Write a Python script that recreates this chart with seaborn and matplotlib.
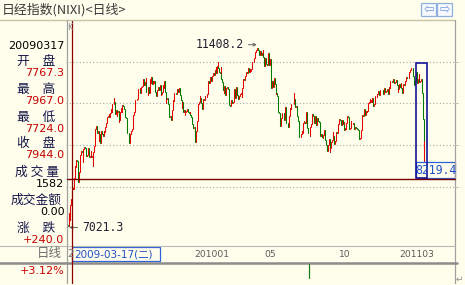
import numpy as np
import pandas as pd
import matplotlib
matplotlib.use("Agg")
import matplotlib.pyplot as plt
from matplotlib.patches import Rectangle
import seaborn as sns

# ---------------- data (daily closes) ----------------
open_first = 7433.5  # open of the first visible candle
c2009_03 = [7173.1, 7086.0, 7055.0, 7376.1, 7198.3, 7569.3, 7704.0, 7944.0, 7972.2, 7946.0,
            8215.5, 8488.3, 8480.0, 8636.3, 8627.0, 8236.1, 8109.5]
c2009_04 = [8351.9, 8719.8, 8749.8, 8857.9, 8832.9, 8595.0, 8916.1, 8964.1, 8924.4, 8842.7,
            8743.0, 8755.3, 8907.6, 8924.8, 8711.3, 8727.3, 8847.0, 8708.0, 8726.3, 8493.8, 8828.3]
c2009_05 = [8977.4, 9385.7, 9432.8, 9452.0, 9298.6, 9340.5, 9093.7, 9265.0, 9038.7, 9290.3,
            9344.6, 9264.2, 9225.8, 9347.0, 9310.8, 9438.8, 9451.4, 9522.5]
c2009_06 = [9677.8, 9704.3, 9741.7, 9669.0, 9768.0, 9865.6, 9786.3, 9991.5, 9981.3, 10135.8,
            10039.7, 9752.9, 9840.9, 9703.7, 9786.3, 9826.3, 9549.6, 9590.3, 9796.1, 9877.4, 9783.5, 9958.4]
c2009_07 = [9939.9, 9876.2, 9816.1, 9680.9, 9647.8, 9420.8, 9291.1, 9287.3, 9050.3, 9261.8,
            9269.3, 9344.2, 9395.3, 9652.0, 9723.2, 9792.9, 9944.6, 10088.7, 10087.3, 10113.2, 10165.2, 10356.8]
c2009_08 = [10352.5, 10375.0, 10252.5, 10388.1, 10412.1, 10524.3, 10585.4, 10435.0, 10517.9, 10597.3,
            10268.6, 10285.0, 10204.0, 10383.4, 10238.2, 10581.1, 10497.4, 10639.7, 10474.0, 10534.1, 10492.5]
c2009_09 = [10530.1, 10280.5, 10214.6, 10187.1, 10320.9, 10393.2, 10312.1, 10312.1, 10444.3, 10202.1,
            10217.6, 10270.8, 10443.8, 10370.5, 10544.2, 10266.0, 10009.5, 10100.2, 10133.2]
c2009_10 = [9978.6, 9731.9, 9674.5, 9691.8, 9599.8, 9786.0, 9832.5, 10076.6, 10060.2, 10238.7,
            10257.6, 10236.5, 10336.8, 10333.4, 10267.2, 10283.0, 10362.6, 10212.5, 10075.1, 9891.1, 10034.7]
c2009_11 = [9803.0, 9844.3, 9717.4, 9789.4, 9809.0, 9870.7, 9871.7, 9804.5, 9770.3, 9791.2,
            9729.9, 9676.8, 9549.5, 9497.7, 9401.6, 9441.6, 9383.2, 9081.5, 9345.6]
c2009_12 = [9572.2, 9608.9, 9977.7, 10022.6, 10167.6, 10140.5, 10004.7, 9862.8, 10107.9, 10105.7,
            10083.5, 10177.4, 10163.8, 10142.1, 10215.6, 10378.0, 10536.9, 10494.7, 10634.2, 10638.1, 10546.4]
c2010_01 = [10654.8, 10681.7, 10731.5, 10681.8, 10798.3, 10879.1, 10735.0, 10907.7, 10982.1, 10855.1,
            10764.9, 10737.5, 10868.4, 10590.6, 10512.7, 10325.3, 10252.1, 10414.3, 10198.0]
c2010_02 = [10205.0, 10371.1, 10404.3, 10356.0, 10057.1, 9951.8, 9932.9, 9964.0, 10092.2, 10013.3,
            10034.3, 10306.8, 10335.7, 10123.6, 10400.5, 10352.1, 10198.8, 10102.0, 10126.0]
c2010_03 = [10172.1, 10221.8, 10253.1, 10145.7, 10369.0, 10585.9, 10567.7, 10567.3, 10665.0, 10751.3,
            10751.7, 10721.7, 10847.0, 10744.0, 10824.7, 10774.2, 10815.0, 10828.9, 10996.4, 10986.5,
            11097.1, 11089.9]
c2010_04 = [11244.4, 11286.1, 11339.3, 11282.3, 11292.8, 11168.2, 11204.3, 11251.9, 11161.2, 11204.9,
            11273.8, 11102.2, 10908.8, 10900.7, 11090.1, 10949.1, 10914.5, 11165.8, 11212.7, 10924.8, 11057.4]
c2010_05 = [10695.7, 10364.6, 10530.7, 10411.1, 10394.0, 10620.6, 10462.5, 10235.8, 10242.6, 10186.8,
            10030.3, 9784.5, 9758.4, 9459.9, 9522.7, 9639.7, 9763.0, 9768.7]
c2010_06 = [9711.5, 9603.2, 9914.2, 9901.2, 9520.8, 9537.9, 9439.1, 9542.7, 9705.3, 9879.9,
            9867.9, 9990.2, 9974.9, 9995.0, 10238.0, 10112.9, 9923.7, 9928.3, 9737.5, 9693.9, 9570.7, 9382.6]
c2010_07 = [9191.6, 9203.7, 9266.8, 9338.0, 9279.7, 9535.7, 9585.3, 9548.1, 9537.2, 9795.2,
            9685.5, 9408.4, 9300.5, 9278.8, 9220.9, 9431.0, 9503.7, 9496.9, 9753.3, 9696.0, 9537.3]
c2010_08 = [9570.3, 9694.0, 9489.3, 9653.9, 9642.1, 9572.5, 9551.1, 9292.9, 9212.6, 9253.5,
            9196.7, 9161.7, 9240.5, 9362.7, 9179.4, 9116.7, 8995.1, 8845.4, 8906.5, 8991.1, 9149.3, 8824.1]
c2010_09 = [8927.0, 9062.8, 9114.1, 9301.3, 9226.0, 9024.6, 9098.4, 9239.2, 9321.8, 9299.3,
            9516.6, 9509.5, 9626.1, 9602.1, 9566.8, 9471.7, 9603.1, 9495.8, 9559.4, 9369.4]
c2010_10 = [9404.2, 9381.1, 9518.8, 9691.4, 9684.8, 9588.9, 9388.6, 9403.5, 9583.5, 9500.3,
            9498.5, 9539.5, 9381.6, 9376.5, 9426.7, 9401.2, 9377.4, 9387.0, 9366.0, 9202.5]
c2010_11 = [9154.7, 9160.0, 9358.8, 9626.0, 9732.9, 9694.5, 9830.5, 9861.5, 9724.8, 9827.5,
            9797.1, 9811.7, 10013.6, 10022.4, 10115.2, 10030.1, 10079.8, 10039.6, 10126.0, 9937.0]
c2010_12 = [9988.1, 10168.5, 10178.3, 10167.2, 10141.1, 10232.3, 10285.9, 10212.0, 10293.9, 10316.8,
            10309.8, 10311.3, 10303.8, 10216.4, 10370.5, 10346.5, 10279.2, 10292.6, 10356.0, 10344.5, 10228.9]
c2011_01 = [10398.1, 10380.8, 10529.8, 10541.0, 10510.7, 10512.8, 10589.8, 10499.0, 10502.9, 10519.0,
            10557.1, 10437.3, 10274.5, 10345.1, 10464.4, 10401.9, 10478.7, 10360.3, 10237.9]
c2011_02 = [10274.5, 10457.4, 10431.4, 10543.5, 10592.0, 10636.0, 10617.8, 10605.7, 10725.5, 10746.7,
            10808.3, 10836.6, 10842.8, 10857.5, 10664.7, 10579.1, 10452.7, 10526.8, 10624.1]
c2011_03 = [10754.0, 10492.4, 10586.0, 10693.7, 10505.0, 10525.2, 10589.5, 10434.4, 10254.4,
            9620.5, 8605.2, 9093.7]

month_keys = ["2009-03", "2009-04", "2009-05", "2009-06", "2009-07", "2009-08", "2009-09",
              "2009-10", "2009-11", "2009-12", "2010-01", "2010-02", "2010-03", "2010-04",
              "2010-05", "2010-06", "2010-07", "2010-08", "2010-09", "2010-10", "2010-11",
              "2010-12", "2011-01", "2011-02", "2011-03"]
month_lists = [c2009_03, c2009_04, c2009_05, c2009_06, c2009_07, c2009_08, c2009_09, c2009_10,
               c2009_11, c2009_12, c2010_01, c2010_02, c2010_03, c2010_04, c2010_05, c2010_06,
               c2010_07, c2010_08, c2010_09, c2010_10, c2010_11, c2010_12, c2011_01, c2011_02,
               c2011_03]

tick_months = ["2010-01", "2010-05", "2010-10", "2011-03"]
tick_labels = ["201001", "05", "10", "201103"]
grid_levels = [8000, 9000, 10000, 11000]

# selected day (crosshair) info
sel_month, sel_pos = "2009-03", 7
sel_date = "20090317"
sel_date_label = "2009-03-17(二)"
sel_open, sel_high, sel_low, sel_close = 7767.3, 7967.0, 7724.0, 7944.0
sel_volume, sel_amount, sel_change, sel_pct = 1582, 0.00, 240.0, 3.12
cursor_value = 8219.4
peak_month, peak_pos, peak_high = "2010-04", 2, 11408.2
trough_month, trough_pos, trough_low = "2009-03", 2, 7021.3
box_month, box_top = "2011-03", 10970
bottom_mark_month, bottom_mark_pos = "2010-07", 13

# ---------------- build frame ----------------
closes = np.concatenate([np.asarray(m, float) for m in month_lists])
lens = [len(m) for m in month_lists]
mstart = dict(zip(month_keys, np.concatenate([[0], np.cumsum(lens)[:-1]])))
opens = np.concatenate([[open_first], closes[:-1]])
n = len(closes)
idx = np.arange(n)
dirs = np.where(closes >= opens, "up", "down")
long = pd.DataFrame({
    "x": np.concatenate([idx, idx]),
    "price": np.concatenate([opens, closes]),
    "cid": np.concatenate([idx, idx]),
    "dir": np.concatenate([dirs, dirs]),
}).sort_values(["cid"], kind="stable")

# ---------------- style ----------------
BG = "#FFFEEC"
UP, DOWN = "#E80000", "#007A00"
sns.set_theme(style="white")
plt.rcParams["font.family"] = ["DejaVu Sans", "Noto Sans CJK SC"]
CJK = ["Noto Sans CJK SC", "DejaVu Sans"]

W, H = 465, 285
fig = plt.figure(figsize=(W / 100, H / 100), dpi=100, facecolor=BG)
ax = fig.add_axes([66 / W, (H - 246) / H, (455 - 66) / W, (246 - 20) / H])
ax.set_facecolor("none")

sns.lineplot(data=long, x="x", y="price", units="cid", estimator=None, hue="dir",
             palette={"up": UP, "down": DOWN}, legend=False, linewidth=0.75,
             sort=False, ax=ax)

ax.set_xlim(-1.03, 537.3)
ax.set_ylim(6577, 12001)
ax.set_xlabel("")
ax.set_ylabel("")
ax.set_yticks(grid_levels)
ax.set_yticklabels([])
ax.yaxis.grid(True, linestyle=(0, (1, 2)), color="#A8A8A8", linewidth=0.8)
ax.xaxis.grid(False)
ax.set_xticks([mstart[m] for m in tick_months])
ax.set_xticklabels(tick_labels)
ax.tick_params(axis="x", length=0, pad=3.2, labelsize=6.6, labelcolor="#5A5A5A")
ax.tick_params(axis="y", length=0)
for s in ax.spines.values():
    s.set_visible(False)

# overlay in pixel coordinates
ov = fig.add_axes([0, 0, 1, 1], zorder=5)
ov.set_xlim(0, W)
ov.set_ylim(H, 0)
ov.axis("off")
ov.patch.set_alpha(0)


def px(i, v):
    d = ax.transData.transform((i, v))
    return d[0], H - d[1]


GRAY = "#A0A0A0"
# frame lines
ov.plot([0, 455], [20, 20], color="#C9C4A8", lw=1.0)
ov.plot([66.5, 66.5], [20, 283], color=GRAY, lw=0.9)
ov.plot([454.5, 454.5], [20, 283], color=GRAY, lw=0.9)
ov.plot([0, 455], [245.5, 245.5], color="#B8B8B8", lw=0.8)
ov.plot([0, 457], [263, 263], color="#8C8C8C", lw=1.8)
for gy in grid_levels:
    _, yy = px(0, gy)
    ov.plot([455, 458], [yy, yy], color="#C0C0C0", lw=0.7)

# title and buttons
ov.text(2, 10, "日经指数(NIXI)<日线>", ha="left", va="center", fontsize=9.3,
        color="#3A3A3A", family=CJK)
for bx, arrow in [(421, "⇦"), (437, "⇨")]:
    ov.add_patch(Rectangle((bx, 2.5), 15.3, 13.5, ec="#8FB0DC", fc="#F6F9FF", lw=0.9))
    ov.text(bx + 7.7, 9.5, arrow, ha="center", va="center", fontsize=9, color="#6F9AD6")

# left info panel
LBL, RED = "#15154A", "#C80000"
panel = [
    (46, sel_date, "black", "num"),
    (61, "开　盘", LBL, "lab"), (72.7, f"{sel_open:.1f}", RED, "num"),
    (89, "最　高", LBL, "lab"), (101, f"{sel_high:.1f}", RED, "num"),
    (117, "最　低", LBL, "lab"), (128.7, f"{sel_low:.1f}", RED, "num"),
    (144, "收　盘", LBL, "lab"), (155.3, f"{sel_close:.1f}", RED, "num"),
    (172.5, "成 交 量", LBL, "lab"), (184.3, f"{sel_volume}", "black", "num"),
    (200.5, "成交金额", LBL, "lab"), (212.3, f"{sel_amount:.2f}", "black", "num"),
    (228.3, "涨　跌", LBL, "lab"), (239.6, f"{sel_change:+.1f}", RED, "num"),
]
for y, t, c, kind in panel:
    if kind == "lab":
        ov.text(36.5, y, t, ha="center", va="center", fontsize=9.2, color=c, family=CJK)
    else:
        ov.text(64.5, y, t, ha="right", va="center", fontsize=8, color=c)
ov.text(62, 254, "日线", ha="right", va="center", fontsize=9, color="#6E6E6E", family=CJK)
ov.text(64.5, 271, f"{sel_pct:+.2f}%", ha="right", va="center", fontsize=8, color=RED)
ov.text(69.5, 27, "K", ha="center", va="center", fontsize=6, color="#8A8A8A")
ov.text(459, 279, "↵", ha="center", va="center", fontsize=6.5, color="#909090")

# crosshair
sel_idx = mstart[sel_month] + sel_pos
cx, _ = px(sel_idx, 0)
_, cy = px(0, cursor_value)
ov.plot([cx, cx], [21, 283], color="#8A0000", lw=0.9)
ov.plot([66.5, 454.5], [cy + 1, cy + 1], color="#7A0000", lw=1.0)

# date box on the axis row
ov.text(66.8, 254, "2", ha="left", va="center", fontsize=7.5, color="#777777")
ov.add_patch(Rectangle((cx, 247), 88, 14, ec="#2F62D8", fc=BG, lw=0.9))
ov.text(cx + 2, 254.3, sel_date_label, ha="left", va="center", fontsize=7.5,
        color="#1F4FC8", family=["DejaVu Sans", "Noto Sans CJK SC"])

# bottom marker
mx, _ = px(mstart[bottom_mark_month] + bottom_mark_pos, 0)
ov.plot([mx, mx], [264, 278], color="#1C7A1C", lw=0.9)

# peak / trough annotations
ax.annotate(f"{peak_high:.1f}", xy=(mstart[peak_month] + peak_pos, peak_high),
            xytext=(-13, 0), textcoords="offset pixels", ha="right", va="center",
            fontsize=8.3, family="DejaVu Sans Mono", color="#202030",
            arrowprops=dict(arrowstyle="->", color="#606060", lw=0.7,
                            shrinkA=1, shrinkB=0, mutation_scale=5))
ax.annotate(f"{trough_low:.1f}", xy=(mstart[trough_month] + trough_pos + 1.3, trough_low),
            xytext=(13, 0), textcoords="offset pixels", ha="left", va="center",
            fontsize=8.3, family="DejaVu Sans Mono", color="#202030",
            arrowprops=dict(arrowstyle="->", color="#606060", lw=0.7,
                            shrinkA=1, shrinkB=0, mutation_scale=5))

# cursor value label and selection box
bx0, _ = px(mstart[box_month] - 0.7, 0)
bx1, _ = px(n - 1 + 3.6, 0)
_, by0 = px(0, box_top)
ov.add_patch(Rectangle((bx0, cy - 15.5), 454.5 - bx0, 15.5, ec="#2F62D8", fc=BG, lw=0.9))
ov.text((bx0 + 454.5) / 2 + 1, cy - 7.3, f"{cursor_value:.1f}", ha="center", va="center",
        fontsize=8.3, family="DejaVu Sans Mono", color="#1F4FC8")
ov.add_patch(Rectangle((bx0, by0), bx1 - bx0, cy - by0, ec="#14149A", fc="none", lw=1.2))

fig.savefig("out.png", dpi=100, facecolor=BG)
